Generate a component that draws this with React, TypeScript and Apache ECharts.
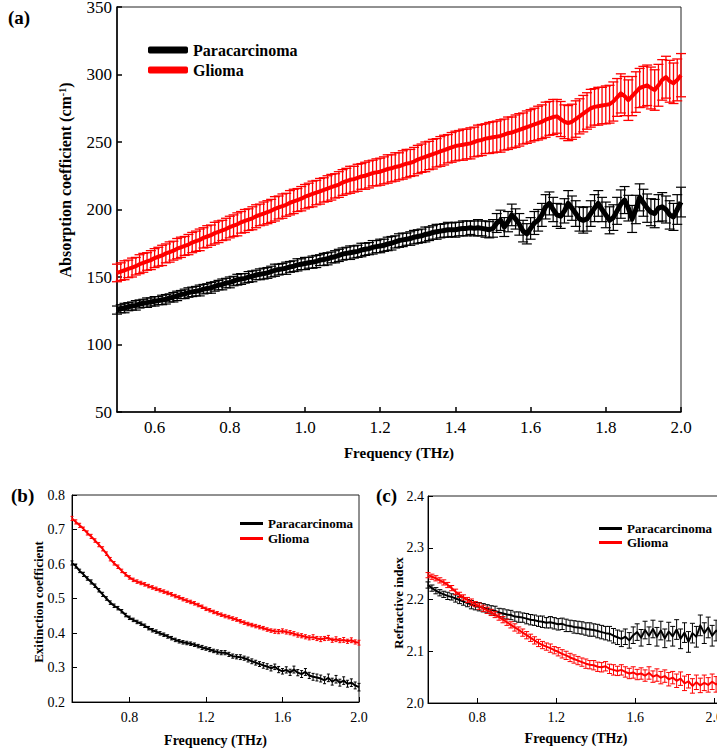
import React, { useEffect, useRef } from "react";
import * as echarts from "echarts";

const FONT = "Liberation Serif";
const RED = "#ff0000";
const BLACK = "#000000";

// ---------- Panel (a): absorption coefficient, 0.50 - 2.00 THz, step 0.01 ----------
const A_START = 0.5;
const A_STEP = 0.01;
const aGlioma = [
  153, 154, 155, 156, 157, 158, 159.5, 160.5, 161.5, 162.5,
  164, 165, 166, 167.5, 168.5, 169.5, 171, 172, 173, 174,
  175.5, 176.5, 177.5, 179, 180, 181, 182.5, 183.5, 184.5, 185.5,
  187, 188, 189, 190.5, 191.5, 192.5, 193.5, 195, 196, 197,
  198, 199, 200.5, 201.5, 202.5, 203.5, 205, 206, 207, 208,
  209.5, 210.5, 211.5, 212.5, 213.5, 214.5, 215.5, 216.5, 217.5, 218.5,
  220, 221, 222, 222.5, 223.5, 224.5, 225, 226, 227, 227.5,
  228, 229, 230, 230.5, 231.5, 232, 233, 234, 234.5, 235.5,
  237, 238, 239, 240, 241, 242, 243, 244, 245, 246,
  247, 247.5, 248, 248.5, 249, 250, 251, 251.5, 252.5, 253,
  253.5, 254, 254.5, 255.5, 256.5, 257, 258, 259, 260, 261,
  262, 263, 264, 265, 266.5, 267.5, 268.5, 269, 267, 265,
  264, 265, 267, 269, 271, 273, 275, 276, 276.5, 277,
  277.5, 278, 280, 283, 286, 284, 281, 284, 287, 290,
  291, 292, 290, 288.5, 292, 296, 298, 295, 293.5, 296,
  299.5,
];
const aGliomaErr = [
  6.5, 6.5, 7, 6.5, 7, 6.5, 7, 7, 6.5, 7,
  7, 7, 7.5, 7, 7.5, 7, 7.5, 7.5, 7, 7.5,
  7.5, 7.5, 8, 7.5, 8, 7.5, 8, 8, 7.5, 8,
  8, 8, 8.5, 8, 8.5, 8, 8.5, 8.5, 8, 8.5,
  8.5, 8.5, 9, 8.5, 9, 8.5, 9, 9, 8.5, 9,
  9, 9, 9.5, 9, 9.5, 9, 9.5, 9.5, 9, 9.5,
  9.5, 9.5, 10, 9.5, 10, 9.5, 10, 10, 9.5, 10,
  10, 10, 10.5, 10, 10.5, 10, 10.5, 10.5, 10, 10.5,
  10.5, 10.5, 11, 10.5, 11, 10.5, 11, 11, 10.5, 11,
  11, 11, 11.5, 11, 11.5, 11, 11.5, 11.5, 11, 11.5,
  11.5, 11.5, 12, 11.5, 12, 11.5, 12, 12, 11.5, 12,
  12, 12, 12.5, 12.5, 13, 12.5, 13, 12.5, 13, 12.5,
  13, 13, 13.5, 13, 13.5, 13.5, 14, 13.5, 14, 13.5,
  14, 14, 14.5, 14, 14.5, 14.5, 15, 14.5, 15, 14.5,
  15, 15, 15.5, 15, 15.5, 15, 15.5, 15.5, 15, 15.5,
  16,
];
const aPara = [
  125.5, 126.5, 127, 128, 128.5, 129, 130, 130.5, 131, 131.5,
  132, 132.5, 133, 133.5, 134.5, 135, 136, 137, 137.5, 138.5,
  139, 139.5, 140, 141, 141.5, 142, 143, 144, 144.5, 145.5,
  146, 147, 148, 148.5, 149, 150, 150.5, 151.5, 152, 152.5,
  153, 154, 155, 155.5, 156, 156.5, 157.5, 158, 159, 159.5,
  160, 160.5, 161, 161.5, 162.5, 163, 163.5, 164.5, 165, 166,
  167, 167.5, 168, 168.5, 169, 170, 170.5, 171, 172, 172.5,
  173, 173.5, 174.5, 175, 176, 177, 177.5, 178, 178.5, 179.5,
  180, 180.5, 181.5, 182, 183, 183.5, 184, 184.5, 185, 185,
  185, 185.5, 186, 186, 186.5, 186, 186.5, 186, 185.5, 185,
  186, 190, 192, 187, 191, 196, 193, 189, 184, 182,
  186, 190, 192, 196, 202, 204.5, 200, 196, 195, 199,
  204.5, 201, 197, 193, 192, 193, 197, 201, 204.5, 200,
  196, 192, 194, 199, 204, 207, 201, 193, 200, 209,
  205, 201, 198, 197, 201, 202, 200, 196, 194.5, 200,
  205.5,
];
const aParaErr = [
  3, 3, 3.5, 3, 3, 3.5, 3, 3, 3.5, 3,
  3.5, 3, 3.5, 3.5, 3, 3.5, 3.5, 3, 3.5, 3.5,
  3.5, 3.5, 4, 3.5, 3.5, 4, 3.5, 3.5, 4, 3.5,
  4, 3.5, 4, 4, 3.5, 4, 4, 3.5, 4, 4,
  4, 4, 4.5, 4, 4, 4.5, 4, 4, 4.5, 4,
  4.5, 4, 4.5, 4.5, 4, 4.5, 4.5, 4, 4.5, 4.5,
  4.5, 4.5, 5, 4.5, 4.5, 5, 4.5, 4.5, 5, 4.5,
  5, 4.5, 5, 5, 4.5, 5, 5, 4.5, 5, 5,
  5, 5, 5.5, 5, 5, 5.5, 5, 5, 5.5, 5,
  5.5, 5, 5.5, 5.5, 5, 5.5, 6, 5.5, 6, 6,
  6.5, 7, 7.5, 7, 7.5, 8, 7.5, 8, 8, 7.5,
  8, 8.5, 8, 8.5, 9, 8.5, 9, 8.5, 9, 9,
  9.5, 9, 9.5, 9, 9.5, 9, 9.5, 10, 9.5, 9,
  9.5, 10, 9.5, 10, 10.5, 10, 9.5, 10, 10.5, 10,
  10, 10.5, 10, 10.5, 10, 10.5, 10, 10.5, 10, 11,
  11,
];
const aXTicks = [0.6, 0.8, 1.0, 1.2, 1.4, 1.6, 1.8, 2.0];

// ---------- Panel (b): extinction coefficient, 0.50 - 2.00 THz, step 0.02 ----------
const B_START = 0.5;
const B_STEP = 0.02;
const bGlioma = [
  0.732, 0.722, 0.712, 0.702, 0.69, 0.68, 0.668, 0.656, 0.644, 0.63,
  0.614, 0.602, 0.592, 0.58, 0.57, 0.561, 0.554, 0.549, 0.545, 0.541,
  0.536, 0.532, 0.528, 0.524, 0.52, 0.516, 0.512, 0.507, 0.503, 0.498,
  0.494, 0.49, 0.486, 0.481, 0.476, 0.47, 0.466, 0.461, 0.457, 0.453,
  0.449, 0.446, 0.442, 0.439, 0.434, 0.43, 0.426, 0.423, 0.42, 0.417,
  0.414, 0.41, 0.407, 0.405, 0.404, 0.406, 0.403, 0.401, 0.398, 0.394,
  0.392, 0.389, 0.386, 0.388, 0.384, 0.382, 0.384, 0.386, 0.379, 0.382,
  0.378, 0.38, 0.376, 0.379, 0.374,
  0.372,
];
const bGliomaErr = [
  0.006, 0.006, 0.006, 0.005, 0.006, 0.006, 0.005, 0.006, 0.006, 0.005,
  0.005, 0.005, 0.005, 0.005, 0.005, 0.005, 0.005, 0.005, 0.005, 0.005,
  0.005, 0.005, 0.005, 0.005, 0.005, 0.005, 0.005, 0.005, 0.005, 0.005,
  0.005, 0.005, 0.005, 0.005, 0.005, 0.005, 0.005, 0.005, 0.005, 0.005,
  0.005, 0.005, 0.005, 0.005, 0.005, 0.005, 0.005, 0.005, 0.005, 0.005,
  0.005, 0.005, 0.005, 0.006, 0.006, 0.006, 0.006, 0.006, 0.006, 0.006,
  0.006, 0.006, 0.006, 0.007, 0.006, 0.007, 0.006, 0.007, 0.006, 0.007,
  0.006, 0.007, 0.006, 0.007, 0.006,
  0.007,
];
const bPara = [
  0.603, 0.594, 0.58, 0.57, 0.558, 0.548, 0.537, 0.524, 0.512, 0.5,
  0.488, 0.479, 0.472, 0.463, 0.452, 0.444, 0.438, 0.432, 0.427, 0.421,
  0.414, 0.408, 0.404, 0.399, 0.395, 0.39, 0.385, 0.38, 0.376, 0.373,
  0.371, 0.369, 0.366, 0.362, 0.358, 0.355, 0.352, 0.348, 0.345, 0.343,
  0.343, 0.338, 0.333, 0.331, 0.33, 0.327, 0.323, 0.318, 0.314, 0.31,
  0.306, 0.303, 0.298, 0.302, 0.294, 0.289, 0.293, 0.286, 0.294, 0.285,
  0.281, 0.287, 0.277, 0.273, 0.271, 0.268, 0.263, 0.27, 0.259, 0.266,
  0.256, 0.262, 0.253, 0.256, 0.248,
  0.243,
];
const bParaErr = [
  0.006, 0.006, 0.005, 0.006, 0.005, 0.006, 0.005, 0.005, 0.006, 0.005,
  0.005, 0.005, 0.005, 0.005, 0.005, 0.005, 0.005, 0.005, 0.005, 0.005,
  0.005, 0.005, 0.005, 0.005, 0.005, 0.005, 0.005, 0.005, 0.005, 0.005,
  0.005, 0.005, 0.005, 0.005, 0.006, 0.005, 0.006, 0.005, 0.006, 0.006,
  0.006, 0.006, 0.006, 0.006, 0.007, 0.006, 0.007, 0.007, 0.007, 0.007,
  0.008, 0.008, 0.008, 0.008, 0.009, 0.008, 0.009, 0.009, 0.01, 0.009,
  0.01, 0.01, 0.009, 0.01, 0.01, 0.01, 0.01, 0.011, 0.01, 0.011,
  0.01, 0.011, 0.01, 0.011, 0.01,
  0.011,
];
const bXTicks = [0.8, 1.2, 1.6, 2.0];

// ---------- Panel (c): refractive index, 0.55 - 2.05 THz, step 0.02 ----------
const C_START = 0.55;
const C_STEP = 0.02;
const cGlioma = [
  2.247, 2.244, 2.241, 2.237, 2.233, 2.228, 2.222, 2.215, 2.209, 2.204,
  2.199, 2.195, 2.191, 2.187, 2.183, 2.179, 2.175, 2.171, 2.166, 2.161,
  2.156, 2.151, 2.146, 2.141, 2.136, 2.131, 2.126, 2.121, 2.116, 2.112,
  2.109, 2.106, 2.102, 2.099, 2.095, 2.092, 2.088, 2.085, 2.082, 2.079,
  2.076, 2.074, 2.073, 2.07, 2.069, 2.071, 2.066, 2.064, 2.062, 2.064,
  2.06, 2.057, 2.059, 2.055, 2.057, 2.053, 2.058, 2.051, 2.054, 2.049,
  2.052, 2.046, 2.049, 2.043, 2.047, 2.038, 2.042, 2.033, 2.04, 2.034,
  2.039, 2.035, 2.041, 2.036, 2.04, 2.038,
];
const cGliomaErr = [
  0.005, 0.005, 0.005, 0.005, 0.005, 0.005, 0.005, 0.005, 0.005, 0.005,
  0.005, 0.006, 0.005, 0.006, 0.006, 0.006, 0.006, 0.006, 0.006, 0.006,
  0.006, 0.006, 0.007, 0.006, 0.007, 0.007, 0.007, 0.007, 0.007, 0.007,
  0.007, 0.008, 0.007, 0.008, 0.008, 0.008, 0.008, 0.008, 0.008, 0.008,
  0.009, 0.008, 0.009, 0.009, 0.009, 0.009, 0.009, 0.01, 0.009, 0.01,
  0.01, 0.01, 0.011, 0.01, 0.011, 0.011, 0.012, 0.011, 0.012, 0.012,
  0.012, 0.013, 0.012, 0.013, 0.013, 0.014, 0.013, 0.014, 0.014, 0.014,
  0.015, 0.014, 0.015, 0.015, 0.015, 0.015,
];
const cPara = [
  2.228, 2.222, 2.217, 2.213, 2.21, 2.207, 2.205, 2.202, 2.199, 2.196,
  2.193, 2.19, 2.187, 2.186, 2.184, 2.182, 2.18, 2.178, 2.175, 2.173,
  2.171, 2.17, 2.167, 2.166, 2.165, 2.163, 2.161, 2.16, 2.158, 2.157,
  2.155, 2.156, 2.154, 2.152, 2.153, 2.15, 2.149, 2.147, 2.146, 2.145,
  2.143, 2.142, 2.141, 2.139, 2.137, 2.135, 2.134, 2.13, 2.127, 2.124,
  2.128, 2.121, 2.131, 2.137, 2.126, 2.141, 2.13, 2.143, 2.128, 2.14,
  2.125, 2.138, 2.129, 2.142, 2.124, 2.136, 2.118, 2.135, 2.128, 2.15,
  2.135, 2.146, 2.13, 2.14, 2.134, 2.138,
];
const cParaErr = [
  0.006, 0.006, 0.006, 0.006, 0.006, 0.007, 0.006, 0.007, 0.007, 0.007,
  0.007, 0.008, 0.007, 0.008, 0.008, 0.008, 0.008, 0.009, 0.008, 0.009,
  0.009, 0.009, 0.009, 0.01, 0.009, 0.01, 0.01, 0.01, 0.01, 0.011,
  0.01, 0.011, 0.011, 0.011, 0.011, 0.012, 0.011, 0.012, 0.012, 0.012,
  0.012, 0.013, 0.012, 0.013, 0.013, 0.013, 0.014, 0.014, 0.014, 0.015,
  0.015, 0.015, 0.016, 0.016, 0.016, 0.017, 0.017, 0.017, 0.018, 0.018,
  0.018, 0.018, 0.019, 0.019, 0.019, 0.019, 0.02, 0.019, 0.02, 0.02,
  0.02, 0.02, 0.02, 0.02, 0.02, 0.02,
];
const cXTicks = [0.8, 1.2, 1.6, 2.0];

const freqGrid = (start: number, step: number, n: number) =>
  Array.from({ length: n }, (_, i) => Number((start + i * step).toFixed(3)));

function errBars(
  name: string,
  freqs: number[],
  vals: number[],
  errs: number[],
  color: string,
  cap: number,
  lw: number,
  idx: number,
  z: number
) {
  return {
    type: "custom",
    name,
    xAxisIndex: idx,
    yAxisIndex: idx,
    z,
    silent: true,
    clip: false,
    data: freqs.map((f, i) => [f, vals[i] - errs[i], vals[i] + errs[i]]),
    encode: { x: 0, y: [1, 2] },
    renderItem: (_p: any, api: any) => {
      const x = api.value(0);
      const lo = api.coord([x, api.value(1)]);
      const hi = api.coord([x, api.value(2)]);
      const style = { stroke: color, lineWidth: lw, fill: null };
      return {
        type: "group",
        children: [
          { type: "line", shape: { x1: lo[0], y1: lo[1], x2: hi[0], y2: hi[1] }, style },
          { type: "line", shape: { x1: lo[0] - cap, y1: lo[1], x2: lo[0] + cap, y2: lo[1] }, style },
          { type: "line", shape: { x1: hi[0] - cap, y1: hi[1], x2: hi[0] + cap, y2: hi[1] }, style },
        ],
      };
    },
  };
}

function lineSeries(name: string, freqs: number[], vals: number[], color: string, width: number, idx: number, z: number) {
  return {
    type: "line",
    name,
    xAxisIndex: idx,
    yAxisIndex: idx,
    z,
    silent: true,
    showSymbol: false,
    symbol: "none",
    data: freqs.map((f, i) => [f, vals[i]]),
    lineStyle: { color, width, join: "round" },
    itemStyle: { color },
  };
}

function xAxisCfg(idx: number, min: number, max: number, ticks: number[], fontSize: number, nameSize: number, nameGap: number, margin: number, lw: number) {
  return {
    type: "value",
    gridIndex: idx,
    min,
    max,
    name: "Frequency (THz)",
    nameLocation: "middle",
    nameGap,
    nameTextStyle: { fontFamily: FONT, fontWeight: "bold", fontSize: nameSize, color: BLACK },
    axisLine: { show: true, onZero: false, lineStyle: { color: BLACK, width: lw } },
    axisTick: { show: true, inside: true, length: 5, customValues: ticks, lineStyle: { color: BLACK, width: lw } },
    axisLabel: {
      customValues: ticks,
      margin,
      fontFamily: FONT,
      fontSize,
      color: BLACK,
      hideOverlap: false,
      formatter: (v: number) => v.toFixed(1),
    },
    splitLine: { show: false },
  };
}

function yAxisCfg(idx: number, min: number, max: number, interval: number, fontSize: number, margin: number, decimals: number, lw: number) {
  return {
    type: "value",
    gridIndex: idx,
    min,
    max,
    interval,
    axisLine: { show: true, onZero: false, lineStyle: { color: BLACK, width: lw } },
    axisTick: { show: true, inside: true, length: 5, lineStyle: { color: BLACK, width: lw } },
    axisLabel: {
      margin,
      fontFamily: FONT,
      fontSize,
      color: BLACK,
      formatter: (v: number) => v.toFixed(decimals),
    },
    splitLine: { show: false },
  };
}

function legendCfg(left: number, top: number, w: number, h: number, fontSize: number, gap: number, icon: string) {
  return {
    left,
    top,
    orient: "vertical",
    padding: 0,
    itemWidth: w,
    itemHeight: h,
    itemGap: gap,
    selectedMode: false,
    icon,
    data: [
      { name: "Paracarcinoma", itemStyle: { color: BLACK } },
      { name: "Glioma", itemStyle: { color: RED } },
    ],
    textStyle: { fontFamily: FONT, fontWeight: "bold", fontSize, lineHeight: fontSize, color: BLACK },
  };
}

function yTitle(x: number, y: number, text: string, fontSize: number, rich?: any) {
  return {
    type: "text",
    x,
    y,
    rotation: Math.PI / 2,
    silent: true,
    style: {
      text,
      align: "center",
      verticalAlign: "middle",
      fontFamily: FONT,
      fontWeight: "bold",
      fontSize,
      fill: BLACK,
      rich,
    },
  };
}

function panelLabel(x: number, y: number, text: string) {
  return {
    type: "text",
    x,
    y,
    silent: true,
    style: { text, align: "left", verticalAlign: "middle", fontFamily: FONT, fontWeight: "bold", fontSize: 19, fill: BLACK },
  };
}

export default function App() {
  const ref = useRef<HTMLDivElement>(null);
  useEffect(() => {
    if (!ref.current) return;
    const chart = echarts.init(ref.current, undefined, { renderer: "svg" });
    const aF = freqGrid(A_START, A_STEP, aGlioma.length);
    const bF = freqGrid(B_START, B_STEP, bGlioma.length);
    const cF = freqGrid(C_START, C_STEP, cGlioma.length);
    const grid = (left: number, top: number, width: number, height: number, bw: number) => ({
      left,
      top,
      width,
      height,
      show: true,
      borderColor: "#222",
      borderWidth: bw,
      backgroundColor: "transparent",
      containLabel: false,
      outerBoundsMode: "none",
    });
    chart.setOption({
      animation: false,
      backgroundColor: "#ffffff",
      textStyle: { fontFamily: FONT },
      grid: [grid(117, 7, 564, 405, 1), grid(72, 495, 287, 207, 1), grid(428, 496, 296, 207, 1)],
      xAxis: [
        xAxisCfg(0, 0.5, 2.0, aXTicks, 17, 15, 33, 7, 1.5),
        xAxisCfg(1, 0.5, 2.0, bXTicks, 14, 14, 31, 8, 1),
        xAxisCfg(2, 0.55, 2.05, cXTicks, 14, 14, 28, 7, 1),
      ],
      yAxis: [
        yAxisCfg(0, 50, 350, 50, 17, 5, 0, 1.5),
        yAxisCfg(1, 0.2, 0.8, 0.1, 14, 7, 1, 1),
        yAxisCfg(2, 2.0, 2.4, 0.1, 14, 4, 1, 1),
      ],
      legend: [
        legendCfg(148, 42, 40, 7, 16, 4, "roundRect"),
        legendCfg(240, 517, 23, 3, 13, 2, "rect"),
        legendCfg(599, 522, 23, 3, 13, 1, "rect"),
      ],
      graphic: [
        panelLabel(8, 17, "(a)"),
        panelLabel(11, 495, "(b)"),
        panelLabel(376, 495, "(c)"),
        yTitle(65, 180, "Absorption coefficient (cm{sup|-1})", 16, {
          sup: { fontSize: 10, fontWeight: "bold", fontFamily: FONT, verticalAlign: "top", lineHeight: 10, padding: [0, 0, 8, 0] },
        }),
        yTitle(38, 602, "Exitinction coefficient", 13),
        yTitle(398, 603, "Refractive index", 13),
      ],
      series: [
        errBars("Paracarcinoma", aF, aPara, aParaErr, BLACK, 5, 1.2, 0, 2),
        lineSeries("Paracarcinoma", aF, aPara, BLACK, 5, 0, 3),
        errBars("Glioma", aF, aGlioma, aGliomaErr, RED, 5, 1.3, 0, 4),
        lineSeries("Glioma", aF, aGlioma, RED, 4, 0, 5),

        errBars("Paracarcinoma", bF, bPara, bParaErr, BLACK, 1.5, 1, 1, 2),
        lineSeries("Paracarcinoma", bF, bPara, BLACK, 2, 1, 3),
        errBars("Glioma", bF, bGlioma, bGliomaErr, RED, 1.5, 1, 1, 4),
        lineSeries("Glioma", bF, bGlioma, RED, 2, 1, 5),

        errBars("Paracarcinoma", cF, cPara, cParaErr, BLACK, 2.5, 1, 2, 2),
        lineSeries("Paracarcinoma", cF, cPara, BLACK, 2, 2, 3),
        errBars("Glioma", cF, cGlioma, cGliomaErr, RED, 2.5, 1, 2, 4),
        lineSeries("Glioma", cF, cGlioma, RED, 2, 2, 5),
      ],
    });
    return () => chart.dispose();
  }, []);
  return (
    <div
      ref={ref}
      style={{ position: "fixed", left: 0, top: 0, width: 717, height: 750, overflow: "hidden", background: "#fff" }}
    />
  );
}
